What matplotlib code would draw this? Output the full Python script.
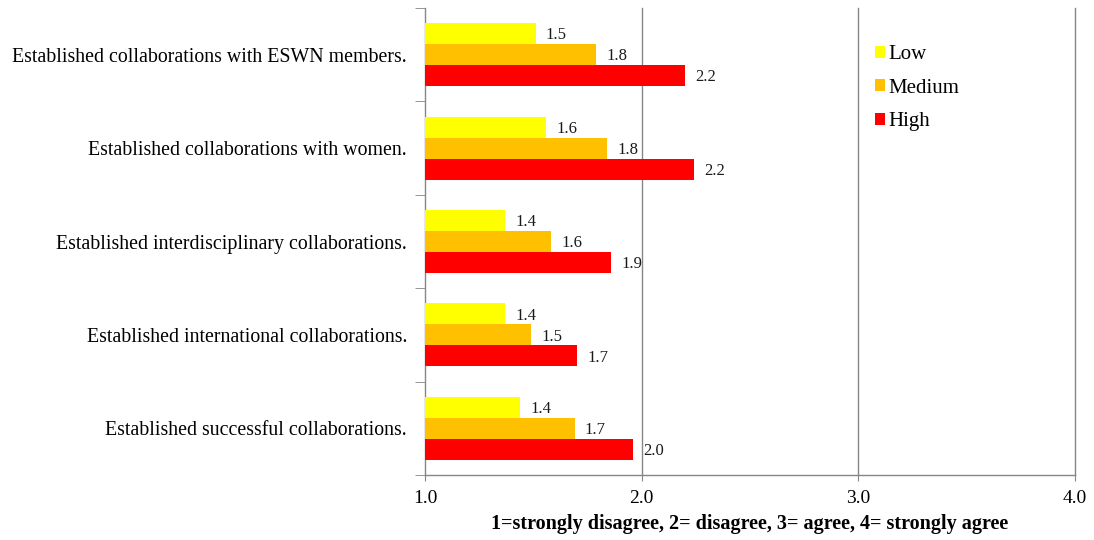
import matplotlib
matplotlib.use("Agg")
import matplotlib.pyplot as plt
from matplotlib.patches import Patch
import numpy as np

plt.rcParams['font.family'] = ['Liberation Serif', 'DejaVu Serif']

categories = [
    "Established collaborations with ESWN members.",
    "Established collaborations with women.",
    "Established interdisciplinary collaborations.",
    "Established international collaborations.",
    "Established successful collaborations.",
]
series_names = ["Low", "Medium", "High"]
low = [1.51, 1.56, 1.37, 1.37, 1.44]
medium = [1.79, 1.84, 1.58, 1.49, 1.69]
high = [2.20, 2.24, 1.86, 1.70, 1.96]
colors = ["#FFFF00", "#FFC000", "#FF0000"]
xticks = [1.0, 2.0, 3.0, 4.0]
xlabel = "1=strongly disagree, 2= disagree, 3= agree, 4= strongly agree"

fig = plt.figure(figsize=(10.94, 5.40), dpi=100)
ax = fig.add_axes([425/1094, 1-475/540, (1075-425)/1094, (475-8)/540])

n = len(categories)
pos = np.arange(n)[::-1]  # first category at top
h = 0.225
offsets = [h, 0, -h]
grid_c = "#868686"

for vals, off, col in zip([low, medium, high], offsets, colors):
    bars = ax.barh(pos + off, np.array(vals) - 1.0, left=1.0, height=h,
                   color=col, edgecolor='none', zorder=3)
    for b, v in zip(bars, vals):
        ax.annotate(f"{v:.1f}", xy=(v, b.get_y() + b.get_height()/2),
                    xytext=(7.5, -1.2), textcoords='offset points',
                    va='center', ha='left', fontsize=12, color='#1a1a1a', zorder=4)

ax.set_xlim(1.0, 4.0)
ax.set_ylim(-0.5, n - 0.5)
ax.set_xticks(xticks)
ax.set_xticklabels([f"{t:.1f}" for t in xticks], fontsize=14)
for t in xticks[1:]:
    ax.axvline(t, color=grid_c, lw=1.0, zorder=1, clip_on=False)

ax.set_yticks(pos)
ax.set_yticklabels(categories, fontsize=14.3)
ax.set_yticks(np.arange(-0.5, n, 1.0), minor=True)
ax.tick_params(axis='y', which='major', length=0, pad=13)
ax.tick_params(axis='y', which='minor', length=7.5, color=grid_c, direction='out')
ax.tick_params(axis='x', which='major', length=4, color=grid_c, direction='out', pad=7)

for s in ['top', 'right']:
    ax.spines[s].set_visible(False)
for s in ['left', 'bottom']:
    ax.spines[s].set_color(grid_c)
    ax.spines[s].set_linewidth(1.0)

ax.set_xlabel(xlabel, fontsize=14.5, fontweight='bold', labelpad=5)

handles = [Patch(facecolor=c, edgecolor='none') for c in colors]
fig.legend(handles, series_names, loc='upper left',
           bbox_to_anchor=(875/1094, 1-45/540), frameon=False, fontsize=15,
           handlelength=0.5, handleheight=0.5, handletextpad=0.15,
           labelspacing=0.7, borderpad=0, borderaxespad=0)

fig.savefig("out.png", dpi=100)
